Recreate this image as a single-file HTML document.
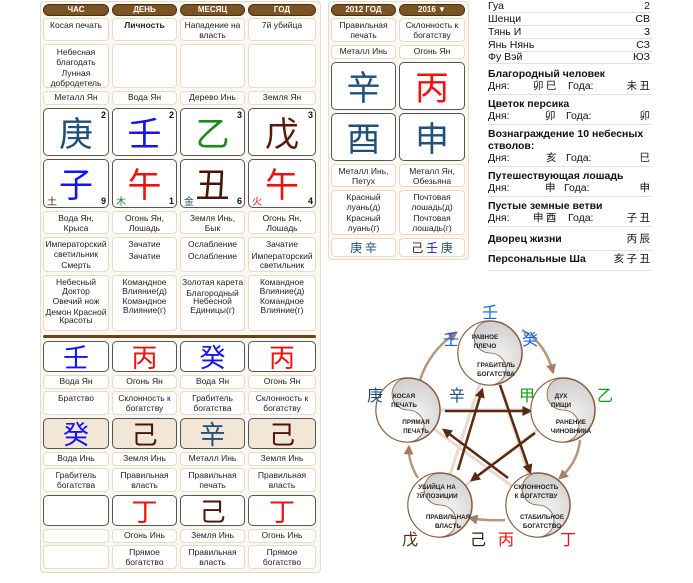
<!DOCTYPE html>
<html><head><meta charset="utf-8">
<style>
*{margin:0;padding:0;box-sizing:border-box}
body{width:693px;height:583px;background:#fff;position:relative;overflow:hidden;font-family:"Liberation Sans","Noto Sans CJK SC",sans-serif;color:#222}
.p{position:absolute;background:#fbf7f1;border:1px solid #e8dac6;border-radius:4px}
.h{position:absolute;top:4px;height:12px;background:#7a5424;border:1px solid #4a2e10;border-radius:6px;color:#fff;font-size:8px;font-weight:bold;text-align:center;line-height:10px}
.c{position:absolute;background:#fff;border:1px solid #eadbc6;border-radius:4px;font-size:8.5px;line-height:9.5px;text-align:center;padding-top:2px;color:#222}
.b{position:absolute;background:#fff;border:1px solid #555;border-radius:5px;text-align:center;font-family:"Noto Sans CJK SC",sans-serif}
.b .n{position:absolute;right:2px;top:1px;font-size:9px;font-weight:bold;font-family:"Liberation Sans",sans-serif;color:#111;line-height:10px}
.b .nb{position:absolute;right:2px;bottom:1px;font-size:9px;font-weight:bold;font-family:"Liberation Sans",sans-serif;color:#111;line-height:10px}
.b .e{position:absolute;left:3px;bottom:1px;font-size:10px;line-height:11px}
.big{font-size:34px;line-height:46px}
.mid{font-size:26px;line-height:30px}
.bg{background:#f2e6d6}
.r{position:absolute;left:488px;width:164px;font-size:10.5px;line-height:12px;color:#111;border-bottom:1px solid #e2e2e2}
.r b{font-weight:bold}
.r .v{position:absolute;right:2px;top:0}
.cj{font-family:"Noto Sans CJK SC",sans-serif}
.sp{height:2px}
</style></head><body>

<div class="p" style="left:40px;top:1px;width:281px;height:572px"></div>
<div class="h" style="left:43px;width:66px">ЧАС</div>
<div class="h" style="left:112px;width:65px">ДЕНЬ</div>
<div class="h" style="left:180px;width:65px">МЕСЯЦ</div>
<div class="h" style="left:248px;width:68px">ГОД</div>

<div class="c" style="left:43px;top:18px;width:66px;height:23px">Косая печать</div>
<div class="c" style="left:112px;top:18px;width:65px;height:23px"><b>Личность</b></div>
<div class="c" style="left:180px;top:18px;width:65px;height:23px">Нападение на власть</div>
<div class="c" style="left:248px;top:18px;width:68px;height:23px">7й убийца</div>

<div class="c" style="left:43px;top:44px;width:66px;height:44px;padding-top:3px">Небесная благодать<div class="sp"></div>Лунная добродетель</div>
<div class="c" style="left:112px;top:44px;width:65px;height:44px"></div>
<div class="c" style="left:180px;top:44px;width:65px;height:44px"></div>
<div class="c" style="left:248px;top:44px;width:68px;height:44px"></div>

<div class="c" style="left:43px;top:91px;width:66px;height:14px;padding-top:1px">Металл Ян</div>
<div class="c" style="left:112px;top:91px;width:65px;height:14px;padding-top:1px">Вода Ян</div>
<div class="c" style="left:180px;top:91px;width:65px;height:14px;padding-top:1px">Дерево Инь</div>
<div class="c" style="left:248px;top:91px;width:68px;height:14px;padding-top:1px">Земля Ян</div>

<div class="b big" style="left:43px;top:108px;width:66px;height:48px;color:#1f4f7a">庚<span class="n">2</span></div>
<div class="b big" style="left:112px;top:108px;width:65px;height:48px;color:#1414f0">壬<span class="n">2</span></div>
<div class="b big" style="left:180px;top:108px;width:65px;height:48px;color:#1a8a1a">乙<span class="n">3</span></div>
<div class="b big" style="left:248px;top:108px;width:68px;height:48px;color:#5a1a0a">戊<span class="n">3</span></div>

<div class="b big" style="left:43px;top:159px;width:66px;height:49px;color:#1414f0">子<span class="e" style="color:#5a2a0a">土</span><span class="nb">9</span></div>
<div class="b big" style="left:112px;top:159px;width:65px;height:49px;color:#f01010">午<span class="e" style="color:#1a8a1a">木</span><span class="nb">1</span></div>
<div class="b big" style="left:180px;top:159px;width:65px;height:49px;color:#4a1408">丑<span class="e" style="color:#1f4f7a">金</span><span class="nb">6</span></div>
<div class="b big" style="left:248px;top:159px;width:68px;height:49px;color:#f01010">午<span class="e" style="color:#f01010">火</span><span class="nb">4</span></div>

<div class="c" style="left:43px;top:211px;width:66px;height:23px">Вода Ян,<br>Крыса</div>
<div class="c" style="left:112px;top:211px;width:65px;height:23px">Огонь Ян,<br>Лошадь</div>
<div class="c" style="left:180px;top:211px;width:65px;height:23px">Земля Инь,<br>Бык</div>
<div class="c" style="left:248px;top:211px;width:68px;height:23px">Огонь Ян,<br>Лошадь</div>

<div class="c" style="left:43px;top:237px;width:66px;height:35px">Императорский светильник<div class="sp"></div>Смерть</div>
<div class="c" style="left:112px;top:237px;width:65px;height:35px">Зачатие<div class="sp"></div>Зачатие</div>
<div class="c" style="left:180px;top:237px;width:65px;height:35px">Ослабление<div class="sp"></div>Ослабление</div>
<div class="c" style="left:248px;top:237px;width:68px;height:35px">Зачатие<div class="sp"></div>Императорский светильник</div>

<div class="c" style="left:43px;top:275px;width:66px;height:56px;line-height:8.5px">Небесный Доктор<div class="sp"></div>Овечий нож<div class="sp"></div>Демон Красной Красоты</div>
<div class="c" style="left:112px;top:275px;width:65px;height:56px;line-height:8.5px">Командное Влияние(д)<div class="sp"></div>Командное Влияние(г)</div>
<div class="c" style="left:180px;top:275px;width:65px;height:56px;line-height:8.5px">Золотая карета<div class="sp"></div>Благородный Небесной Единицы(г)</div>
<div class="c" style="left:248px;top:275px;width:68px;height:56px;line-height:8.5px">Командное Влияние(д)<div class="sp"></div>Командное Влияние(г)</div>

<div style="position:absolute;left:43px;top:335px;width:273px;height:3px;background:#6b4218;border-radius:2px"></div>

<div class="b mid" style="left:43px;top:341px;width:66px;height:31px;color:#1414f0">壬</div>
<div class="b mid" style="left:112px;top:341px;width:65px;height:31px;color:#f01010">丙</div>
<div class="b mid" style="left:180px;top:341px;width:65px;height:31px;color:#1414f0">癸</div>
<div class="b mid" style="left:248px;top:341px;width:68px;height:31px;color:#f01010">丙</div>

<div class="c" style="left:43px;top:375px;width:66px;height:14px;padding-top:1px">Вода Ян</div>
<div class="c" style="left:112px;top:375px;width:65px;height:14px;padding-top:1px">Огонь Ян</div>
<div class="c" style="left:180px;top:375px;width:65px;height:14px;padding-top:1px">Вода Ян</div>
<div class="c" style="left:248px;top:375px;width:68px;height:14px;padding-top:1px">Огонь Ян</div>

<div class="c" style="left:43px;top:391px;width:66px;height:24px">Братство</div>
<div class="c" style="left:112px;top:391px;width:65px;height:24px">Склонность к богатству</div>
<div class="c" style="left:180px;top:391px;width:65px;height:24px">Грабитель богатства</div>
<div class="c" style="left:248px;top:391px;width:68px;height:24px">Склонность к богатству</div>

<div class="b mid bg" style="left:43px;top:418px;width:66px;height:31px;color:#1414f0">癸</div>
<div class="b mid bg" style="left:112px;top:418px;width:65px;height:31px;color:#4a1408">己</div>
<div class="b mid bg" style="left:180px;top:418px;width:65px;height:31px;color:#1f4f7a">辛</div>
<div class="b mid bg" style="left:248px;top:418px;width:68px;height:31px;color:#4a1408">己</div>

<div class="c" style="left:43px;top:452px;width:66px;height:14px;padding-top:1px">Вода Инь</div>
<div class="c" style="left:112px;top:452px;width:65px;height:14px;padding-top:1px">Земля Инь</div>
<div class="c" style="left:180px;top:452px;width:65px;height:14px;padding-top:1px">Металл Инь</div>
<div class="c" style="left:248px;top:452px;width:68px;height:14px;padding-top:1px">Земля Инь</div>

<div class="c" style="left:43px;top:468px;width:66px;height:24px">Грабитель богатства</div>
<div class="c" style="left:112px;top:468px;width:65px;height:24px">Правильная власть</div>
<div class="c" style="left:180px;top:468px;width:65px;height:24px">Правильная печать</div>
<div class="c" style="left:248px;top:468px;width:68px;height:24px">Правильная власть</div>

<div class="b mid" style="left:43px;top:495px;width:66px;height:31px"></div>
<div class="b mid" style="left:112px;top:495px;width:65px;height:31px;color:#f01010">丁</div>
<div class="b mid" style="left:180px;top:495px;width:65px;height:31px;color:#4a1408">己</div>
<div class="b mid" style="left:248px;top:495px;width:68px;height:31px;color:#f01010">丁</div>

<div class="c" style="left:43px;top:529px;width:66px;height:14px"></div>
<div class="c" style="left:112px;top:529px;width:65px;height:14px;padding-top:1px">Огонь Инь</div>
<div class="c" style="left:180px;top:529px;width:65px;height:14px;padding-top:1px">Земля Инь</div>
<div class="c" style="left:248px;top:529px;width:68px;height:14px;padding-top:1px">Огонь Инь</div>

<div class="c" style="left:43px;top:545px;width:66px;height:24px"></div>
<div class="c" style="left:112px;top:545px;width:65px;height:24px">Прямое богатство</div>
<div class="c" style="left:180px;top:545px;width:65px;height:24px">Правильная власть</div>
<div class="c" style="left:248px;top:545px;width:68px;height:24px">Прямое богатство</div>

<!-- middle panel -->
<div class="p" style="left:328px;top:1px;width:141px;height:259px"></div>
<div class="h" style="left:331px;width:65px">2012 ГОД</div>
<div class="h" style="left:399px;width:66px">2016 ▼</div>
<div class="c" style="left:331px;top:18px;width:65px;height:24px">Правильная печать</div>
<div class="c" style="left:399px;top:18px;width:66px;height:24px">Склонность к богатству</div>
<div class="c" style="left:331px;top:45px;width:65px;height:14px;padding-top:1px">Металл Инь</div>
<div class="c" style="left:399px;top:45px;width:66px;height:14px;padding-top:1px">Огонь Ян</div>
<div class="b big" style="left:331px;top:62px;width:65px;height:48px;color:#1f4f7a">辛</div>
<div class="b big" style="left:399px;top:62px;width:66px;height:48px;color:#f01010">丙</div>
<div class="b big" style="left:331px;top:113px;width:65px;height:48px;color:#1f4f7a">酉</div>
<div class="b big" style="left:399px;top:113px;width:66px;height:48px;color:#1f4f7a">申</div>
<div class="c" style="left:331px;top:164px;width:65px;height:23px">Металл Инь,<br>Петух</div>
<div class="c" style="left:399px;top:164px;width:66px;height:23px">Металл Ян,<br>Обезьяна</div>
<div class="c" style="left:331px;top:190px;width:65px;height:45px">Красный луань(д)<div class="sp"></div>Красный луань(г)</div>
<div class="c" style="left:399px;top:190px;width:66px;height:45px">Почтовая лошадь(д)<div class="sp"></div>Почтовая лошадь(г)</div>
<div class="c cj" style="left:331px;top:238px;width:65px;height:19px;font-size:12px;line-height:14px;color:#1f4f7a">庚 辛</div>
<div class="c cj" style="left:399px;top:238px;width:66px;height:19px;font-size:12px;line-height:14px;color:#1f4f7a"><span style="color:#4a1408">己</span> <span style="color:#1414f0">壬</span> 庚</div>

<!-- right info -->
<div class="r" style="top:0px">Гуа<span class="v">2</span></div>
<div class="r" style="top:13px">Шенци<span class="v">СВ</span></div>
<div class="r" style="top:26px">Тянь И<span class="v">3</span></div>
<div class="r" style="top:39px">Янь Нянь<span class="v">СЗ</span></div>
<div class="r" style="top:51px">Фу Вэй<span class="v">ЮЗ</span></div>
<div class="r" style="top:68px;height:27px"><b>Благородный человек</b><br>Дня:<span class="cj" style="position:absolute;left:45px">卯 巳</span><span style="position:absolute;left:80px">Года:</span><span class="v cj" style="top:12px">未 丑</span></div>
<div class="r" style="top:98px;height:27px"><b>Цветок персика</b><br>Дня:<span class="cj" style="position:absolute;left:57px">卯</span><span style="position:absolute;left:78px">Года:</span><span class="v cj" style="top:12px">卯</span></div>
<div class="r" style="top:128px;height:39px"><b>Вознаграждение 10 небесных стволов:</b><br>Дня:<span class="cj" style="position:absolute;left:58px">亥</span><span style="position:absolute;left:78px">Года:</span><span class="v cj" style="top:24px">巳</span></div>
<div class="r" style="top:170px;height:27px"><b>Путешествующая лошадь</b><br>Дня:<span class="cj" style="position:absolute;left:57px">申</span><span style="position:absolute;left:76px">Года:</span><span class="v cj" style="top:12px">申</span></div>
<div class="r" style="top:200px;height:27px"><b>Пустые земные ветви</b><br>Дня:<span class="cj" style="position:absolute;left:45px">申 酉</span><span style="position:absolute;left:80px">Года:</span><span class="v cj" style="top:12px">子 丑</span></div>
<div class="r" style="top:232px;height:19px;line-height:14px"><b>Дворец жизни</b><span class="v cj">丙 辰</span></div>
<div class="r" style="top:252px;height:19px;line-height:14px"><b>Персональные Ша</b><span class="v cj">亥 子 丑</span></div>

<!-- diagram -->
<svg style="position:absolute;left:0;top:0" width="693" height="583" viewBox="0 0 693 583">
<defs>
<marker id="a" markerWidth="4" markerHeight="4" refX="3" refY="2" orient="auto" markerUnits="strokeWidth"><path d="M0,0 L4,2 L0,4 Z" fill="#5a2a10"/></marker>
<marker id="a2" markerWidth="4" markerHeight="4" refX="3" refY="2" orient="auto" markerUnits="strokeWidth"><path d="M0,0 L4,2 L0,4 Z" fill="#7a4a2a"/></marker>
<radialGradient id="g" cx="0.6" cy="0.6" r="0.7"><stop offset="0" stop-color="#f4f4f4"/><stop offset="1" stop-color="#c8c8c8"/></radialGradient>
</defs>
<g stroke="#e0d2c6" stroke-width="3" fill="none" opacity="0.8">
<line x1="410" y1="410" x2="563" y2="410"/><line x1="490" y1="353" x2="538" y2="505"/>
<line x1="563" y1="410" x2="440" y2="505"/><line x1="440" y1="505" x2="490" y2="353"/>
<line x1="538" y1="505" x2="408" y2="410"/>
</g>
<g stroke="#9a6a4a" stroke-width="2.5" fill="none" opacity="0.7">
<path d="M420,380 Q430,350 456,333" marker-end="url(#a2)"/>
<path d="M522,330 Q545,342 553,372" marker-end="url(#a2)"/>
<path d="M580,440 Q578,462 560,478" marker-end="url(#a2)"/>
<path d="M505,520 Q485,521 470,518" marker-end="url(#a2)"/>
<path d="M418,478 Q408,462 409,447" marker-end="url(#a2)"/>
</g>
<g stroke="#5a2a10" stroke-width="2.5" fill="none">
<line x1="445" y1="411" x2="530" y2="411" marker-end="url(#a)"/>
<line x1="500" y1="385" x2="530" y2="472" marker-end="url(#a)"/>
<line x1="535" y1="433" x2="472" y2="480" marker-end="url(#a)"/>
<line x1="458" y1="470" x2="482" y2="390" marker-end="url(#a)"/>
<line x1="508" y1="478" x2="444" y2="430" marker-end="url(#a)"/>
</g>
<g font-family="Liberation Sans,sans-serif" font-size="6.3" font-weight="bold" fill="#222" text-anchor="middle">
<g transform="translate(490,353)"><circle r="32" fill="url(#g)" stroke="#8a5a3a" stroke-width="1.5"/><path d="M0,-32 A32,32 0 0 0 0,32 A16,16 0 0 0 0,0 A16,16 0 0 1 0,-32Z" fill="#fff" stroke="#8a5a3a" stroke-width="0.8"/><text x="-5" y="-14">РАВНОЕ</text><text x="-5" y="-5">ПЛЕЧО</text><text x="6" y="14">ГРАБИТЕЛЬ</text><text x="6" y="23">БОГАТСТВА</text></g>
<g transform="translate(408,410)"><circle r="32" fill="url(#g)" stroke="#8a5a3a" stroke-width="1.5"/><path d="M0,-32 A32,32 0 0 0 0,32 A16,16 0 0 0 0,0 A16,16 0 0 1 0,-32Z" fill="#fff" stroke="#8a5a3a" stroke-width="0.8"/><text x="-4" y="-12">КОСАЯ</text><text x="-4" y="-3">ПЕЧАТЬ</text><text x="8" y="14">ПРЯМАЯ</text><text x="8" y="23">ПЕЧАТЬ</text></g>
<g transform="translate(563,410)"><circle r="32" fill="url(#g)" stroke="#8a5a3a" stroke-width="1.5"/><path d="M0,-32 A32,32 0 0 0 0,32 A16,16 0 0 0 0,0 A16,16 0 0 1 0,-32Z" fill="#fff" stroke="#8a5a3a" stroke-width="0.8"/><text x="-2" y="-12">ДУХ</text><text x="-2" y="-3">ПИЩИ</text><text x="8" y="14">РАНЕНИЕ</text><text x="8" y="23">ЧИНОВНИКА</text></g>
<g transform="translate(440,505)"><circle r="32" fill="url(#g)" stroke="#8a5a3a" stroke-width="1.5"/><path d="M0,-32 A32,32 0 0 0 0,32 A16,16 0 0 0 0,0 A16,16 0 0 1 0,-32Z" fill="#fff" stroke="#8a5a3a" stroke-width="0.8"/><text x="-3" y="-16">УБИЙЦА НА</text><text x="-3" y="-7">7Й ПОЗИЦИИ</text><text x="8" y="14">ПРАВИЛЬНАЯ</text><text x="8" y="23">ВЛАСТЬ</text></g>
<g transform="translate(538,505)"><circle r="32" fill="url(#g)" stroke="#8a5a3a" stroke-width="1.5"/><path d="M0,-32 A32,32 0 0 0 0,32 A16,16 0 0 0 0,0 A16,16 0 0 1 0,-32Z" fill="#fff" stroke="#8a5a3a" stroke-width="0.8"/><text x="-2" y="-16">СКЛОННОСТЬ</text><text x="-2" y="-7">К БОГАТСТВУ</text><text x="4" y="14">СТАБИЛЬНОЕ</text><text x="4" y="23">БОГАТСТВО</text></g>
</g>
<g font-family="Noto Sans CJK SC,sans-serif" font-size="16" text-anchor="middle">
<text x="490" y="318" fill="#1060f0">壬</text>
<text x="451" y="345" fill="#1060f0">壬</text>
<text x="530" y="345" fill="#1060f0">癸</text>
<text x="375" y="401" fill="#1f4f7a">庚</text>
<text x="457" y="401" fill="#1f4f7a">辛</text>
<text x="527" y="401" fill="#1a9a1a">甲</text>
<text x="605" y="401" fill="#1a9a1a">乙</text>
<text x="410" y="545" fill="#5a2a10">戊</text>
<text x="478" y="545" fill="#3a1a0a">己</text>
<text x="506" y="545" fill="#f01010">丙</text>
<text x="568" y="545" fill="#f01010">丁</text>
</g>
</svg>
</body></html>
